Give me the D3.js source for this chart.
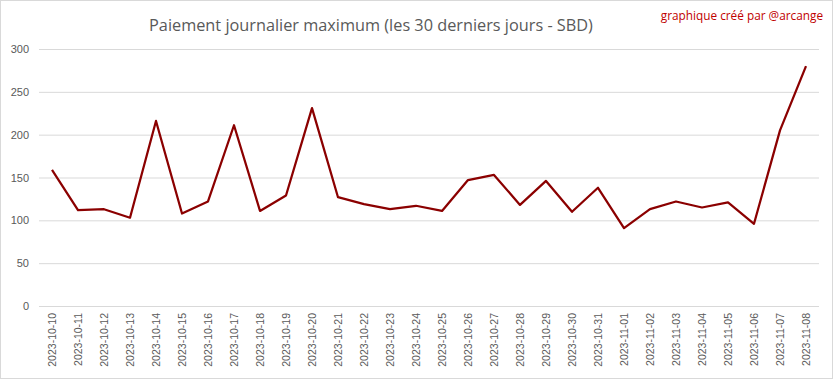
<!DOCTYPE html>
<html>
<head>
<meta charset="utf-8">
<script src="https://cdn.jsdelivr.net/npm/d3@7"></script>
<style>
  html, body { margin: 0; padding: 0; background: #fff; }
  svg { display: block; font-family: "Open Sans", "Noto Sans", sans-serif; }
</style>
</head>
<body>
<svg class="chart" width="833" height="379"></svg>
<script>
(function() {
  'use strict';

var dates = ['2023-10-10', '2023-10-11', '2023-10-12', '2023-10-13', '2023-10-14',
  '2023-10-15', '2023-10-16', '2023-10-17', '2023-10-18', '2023-10-19',
  '2023-10-20', '2023-10-21', '2023-10-22', '2023-10-23', '2023-10-24',
  '2023-10-25', '2023-10-26', '2023-10-27', '2023-10-28', '2023-10-29',
  '2023-10-30', '2023-10-31', '2023-11-01', '2023-11-02', '2023-11-03',
  '2023-11-04', '2023-11-05', '2023-11-06', '2023-11-07', '2023-11-08'];
var payouts = [159, 112, 113, 103, 216, 108, 122, 211, 111, 129,
  231, 127, 119, 113, 117, 111, 147, 153, 118, 146,
  110, 138, 91, 113, 122, 115, 121, 96, 205, 280];
var yTicks = [0, 50, 100, 150, 200, 250, 300];

var width = 833,
    height = 379,
    left = 39, right = 819, top = 49, bottom = 306;

var svg = d3.select('.chart');

// outer frame
svg.append('rect')
  .attr('x', 0.5).attr('y', 0.5)
  .attr('width', width - 1).attr('height', height - 1)
  .attr('fill', '#fff')
  .attr('stroke', '#d9d9d9');

var x = d3.scaleBand()
  .domain(dates)
  .range([left, right]);

var y = d3.scaleLinear()
  .domain([0, 300])
  .range([bottom, top]);

// gridlines + y labels
var yAxis = svg.append('g')
  .attr('transform', 'translate(' + left + ',0)')
  .call(d3.axisLeft(y).tickValues(yTicks).tickSize(-(right - left)).tickPadding(10));
yAxis.select('.domain').remove();
yAxis.selectAll('line').attr('stroke', '#d9d9d9');
yAxis.selectAll('text')
  .attr('fill', '#595959')
  .style('font-size', '11px');

// x labels
var xAxis = svg.append('g')
  .attr('transform', 'translate(0,' + bottom + ')')
  .call(d3.axisBottom(x).tickSize(0).tickPadding(7));
xAxis.select('.domain').remove();
xAxis.selectAll('text')
  .attr('fill', '#595959')
  .style('font-size', '10.5px')
  .attr('transform', 'rotate(-90)')
  .attr('text-anchor', 'end')
  .attr('x', -7)
  .attr('y', 0)
  .attr('dy', '0.35em');

var line = d3.line()
  .x(function(d, i) { return x(dates[i]) + x.bandwidth() / 2; })
  .y(function(d) { return y(d); });

svg.append('path')
  .datum(payouts)
  .attr('d', line)
  .attr('fill', 'none')
  .attr('stroke', '#8b0000')
  .attr('stroke-width', 2.25)
  .attr('stroke-linejoin', 'round');

svg.append('text')
  .attr('x', 371)
  .attr('y', 31)
  .attr('text-anchor', 'middle')
  .attr('fill', '#595959')
  .style('font-size', '16.3px')
  .text('Paiement journalier maximum (les 30 derniers jours - SBD)');

svg.append('text')
  .attr('x', 823)
  .attr('y', 20)
  .attr('text-anchor', 'end')
  .attr('fill', '#c00000')
  .style('font-size', '11.8px')
  .text('graphique créé par @arcange');
}());
</script>
</body>
</html>
